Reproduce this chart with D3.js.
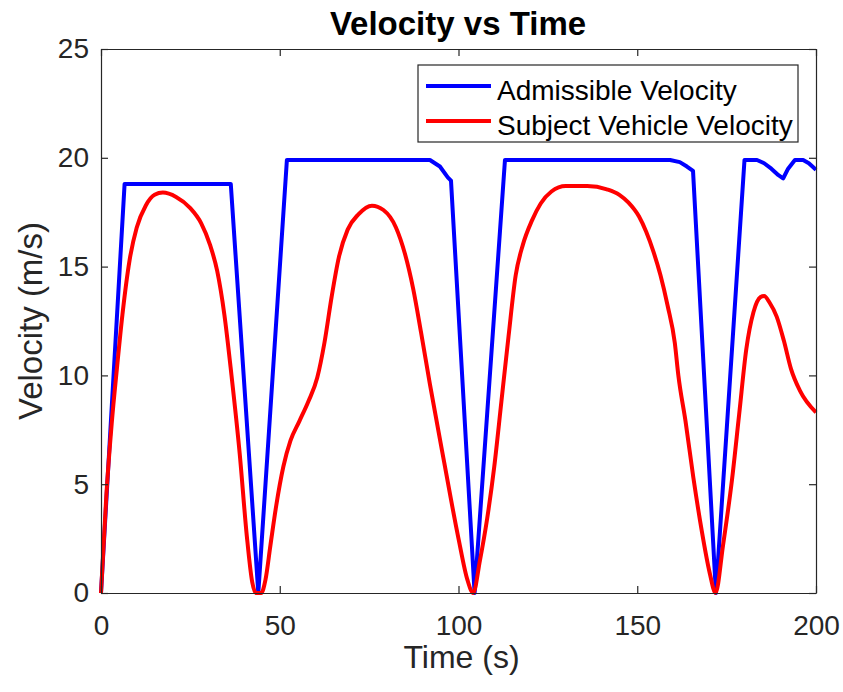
<!DOCTYPE html>
<html>
<head>
<meta charset="utf-8">
<script src="https://cdn.jsdelivr.net/npm/d3@7"></script>
<style>
  body { margin: 0; background: #fff; }
  svg text { font-family: "Liberation Sans", Arial, Helvetica, sans-serif; }
  .axis path, .axis line { stroke: #262626; stroke-width: 1.2; }
  .axis text { fill: #262626; font-size: 28px; }
</style>
</head>
<body>
<svg id="chart" width="843" height="692"></svg>
<script>
// admissible velocity (blue)
var admTime = [0, 6.6, 36.3, 44, 52, 92, 94.8, 97, 97.9, 104.5, 113, 159.2, 161.9, 163.9, 165.6, 172, 180, 183.5, 185.5, 187.5, 189.5, 190.8, 192.2, 194.1, 196.4, 198, 200];
var admVel  = [0, 18.8, 18.8, 0, 19.9, 19.9, 19.6, 19.1, 18.95, 0, 19.9, 19.9, 19.8, 19.6, 19.4, 0, 19.9, 19.9, 19.75, 19.5, 19.2, 19.05, 19.5, 19.9, 19.9, 19.75, 19.45];

// subject vehicle velocity (red)
var subTime = [0, 1.5, 3, 4.5, 6, 8, 10, 12.5, 15, 17.3, 21, 24.9, 28, 30.5, 32.5, 34.5, 36.5, 38.8, 40.8, 42.3, 43.3, 44.8, 46, 47.4, 49, 51, 53, 55.5, 58, 60.5, 62.5, 64.5, 66.5, 69, 72, 75.8, 79, 82.5, 85, 87.3, 89.5, 92, 96, 100, 102.5, 104.1, 106, 108, 110, 112, 114, 116, 118, 120.5, 123, 126, 130, 136, 141.5, 145, 147.5, 150.5, 152.5, 154.5, 156.5, 158.5, 160.5, 161.5, 163.5, 165.7, 168, 170.3, 171.9, 174, 176.5, 178.5, 180.5, 182.5, 184.5, 185.5, 187, 189, 191, 193, 195.5, 200];
var subVel  = [0, 4.5, 7.8, 10.4, 12.8, 15.3, 16.8, 17.8, 18.3, 18.4, 18.2, 17.7, 17.0, 16.0, 14.8, 12.8, 10.0, 6.4, 2.6, 0.5, 0, 0, 0.6, 2.2, 4.0, 5.8, 7.0, 7.9, 8.8, 9.9, 11.5, 13.6, 15.4, 16.7, 17.4, 17.8, 17.6, 16.8, 15.6, 14.0, 12.0, 9.6, 6.0, 2.5, 0.6, 0, 1.5, 3.4, 5.8, 8.8, 11.8, 14.6, 16.0, 17.1, 17.9, 18.45, 18.7, 18.7, 18.55, 18.3, 17.95, 17.3, 16.6, 15.7, 14.6, 13.2, 11.5, 10.0, 7.9, 5.3, 2.9, 0.9, 0, 2.2, 5.2, 8.2, 11.2, 12.9, 13.6, 13.65, 13.35, 12.7, 11.6, 10.3, 9.3, 8.3];

var xTicks = [0, 50, 100, 150, 200];
var yTicks = [0, 5, 10, 15, 20, 25];
var seriesNames = ["Admissible Velocity", "Subject Vehicle Velocity"];
var seriesColors = ["#0000ff", "#ff0000"];

var margin = {left: 101, right: 27, top: 49, bottom: 99};
var svg = d3.select("#chart"),
    width  = svg.attr("width") - margin.left - margin.right,
    height = svg.attr("height") - margin.top - margin.bottom;

var x = d3.scaleLinear().domain([0, 200]).range([0, width]);
var y = d3.scaleLinear().domain([0, 25]).range([height, 0]);

var g = svg.append("g")
    .attr("transform", "translate(" + margin.left + "," + margin.top + ")");

// lines
var admData = admTime.map(function(t, i) { return [t, admVel[i]]; });
var subData = subTime.map(function(t, i) { return [t, subVel[i]]; });

var lineAdm = d3.line()
    .x(function(d) { return x(d[0]); })
    .y(function(d) { return y(d[1]); });
var lineSub = d3.line()
    .curve(d3.curveMonotoneX)
    .x(function(d) { return x(d[0]); })
    .y(function(d) { return y(d[1]); });

g.append("path")
    .datum(admData)
    .attr("fill", "none")
    .attr("stroke", seriesColors[0])
    .attr("stroke-width", 4)
    .attr("stroke-linejoin", "round")
    .attr("d", lineAdm);

g.append("path")
    .datum(subData)
    .attr("fill", "none")
    .attr("stroke", seriesColors[1])
    .attr("stroke-width", 4)
    .attr("stroke-linejoin", "round")
    .attr("d", lineSub);

// axes (box with inward ticks)
g.append("g")
    .attr("class", "axis")
    .attr("transform", "translate(0," + height + ")")
    .call(d3.axisBottom(x).tickValues(xTicks).tickSizeInner(-7).tickSizeOuter(0).tickPadding(22));
g.append("g")
    .attr("class", "axis")
    .call(d3.axisTop(x).tickValues(xTicks).tickSizeInner(-7).tickSizeOuter(0).tickFormat(""));
g.append("g")
    .attr("class", "axis")
    .call(d3.axisLeft(y).tickValues(yTicks).tickSizeInner(-7).tickSizeOuter(0).tickPadding(12));
g.append("g")
    .attr("class", "axis")
    .attr("transform", "translate(" + width + ",0)")
    .call(d3.axisRight(y).tickValues(yTicks).tickSizeInner(-7).tickSizeOuter(0).tickFormat(""));
svg.selectAll(".axis .domain").attr("fill", "none");

// title and labels
svg.append("text")
    .attr("x", 458).attr("y", 35)
    .attr("text-anchor", "middle")
    .attr("font-size", 33).attr("font-weight", "bold")
    .attr("fill", "#000")
    .text("Velocity vs Time");

svg.append("text")
    .attr("x", margin.left + width / 2 + 3).attr("y", 668)
    .attr("text-anchor", "middle")
    .attr("font-size", 32)
    .attr("fill", "#262626")
    .text("Time (s)");

svg.append("text")
    .attr("transform", "translate(42," + (margin.top + height / 2) + ") rotate(-90)")
    .attr("text-anchor", "middle")
    .attr("font-size", 33)
    .attr("fill", "#262626")
    .text("Velocity (m/s)");

// legend
var legend = svg.append("g").attr("transform", "translate(418,65)");
legend.append("rect")
    .attr("width", 380).attr("height", 77)
    .attr("fill", "#fff")
    .attr("stroke", "#262626").attr("stroke-width", 1.2);

var items = legend.selectAll(".item")
    .data(seriesNames)
    .enter().append("g")
    .attr("transform", function(d, i) { return "translate(0," + (21 + i * 35) + ")"; });
items.append("line")
    .attr("x1", 8).attr("x2", 73)
    .attr("stroke", function(d, i) { return seriesColors[i]; })
    .attr("stroke-width", 4);
items.append("text")
    .attr("x", 79).attr("y", 14)
    .attr("font-size", 28)
    .attr("fill", "#000")
    .text(function(d) { return d; });
</script>
</body>
</html>
